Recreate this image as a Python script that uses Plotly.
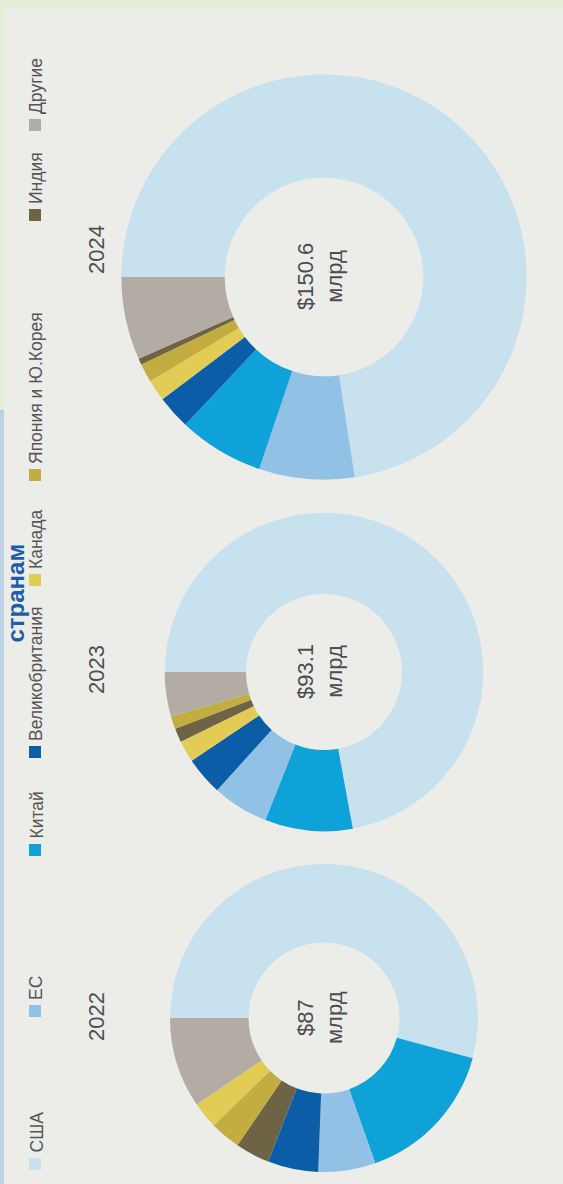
import plotly.graph_objects as go

W, H = 563, 1184

categories = ["США", "ЕС", "Китай", "Великобритания", "Канада",
              "Япония и Ю.Корея", "Индия", "Другие"]
colors = ["#c8e1ef", "#92c1e6", "#0ea2d9", "#0b5da8", "#e2cc55",
          "#c4ad40", "#6e6445", "#b3aca5"]
years = ["2022", "2023", "2024"]
totals_bn = [87, 93.1, 150.6]
total_labels = ["$87<br>млрд", "$93.1<br>млрд", "$150.6<br>млрд"]
share_2022 = [54.2, 6.0, 15.4, 5.3, 2.8, 3.2, 3.6, 9.5]
share_2023 = [72.1, 5.7, 8.9, 3.9, 2.2, 1.3, 1.4, 4.5]
share_2024 = [72.5, 7.6, 6.8, 2.7, 1.7, 1.5, 0.5, 6.6]
shares = [share_2022, share_2023, share_2024]

# layout (pixels, image coordinates)
centers_y = [1018, 672, 277]
center_x = 324
base_r = 154
year_label_y = [1017, 670, 250]
legend_swatch_y = [1164, 1011, 850, 752, 580, 475, 215, 125]

def px(x):
    return x / W

def py(y):
    return 1 - y / H

fig = go.Figure()
for i, yr in enumerate(years):
    vals = shares[i]
    idx = [k for k in range(len(categories)) if categories[k] != "Другие"]
    idx.sort(key=lambda k: -vals[k])
    idx.append(categories.index("Другие"))
    r = base_r * (totals_bn[i] / totals_bn[0]) ** 0.5
    cy = centers_y[i]
    fig.add_trace(go.Pie(
        labels=[categories[k] for k in idx],
        values=[vals[k] for k in idx],
        marker=dict(colors=[colors[k] for k in idx], line=dict(width=0)),
        sort=False, direction="clockwise", rotation=270, hole=0.49,
        textinfo="none", hoverinfo="label+percent", showlegend=False,
        domain=dict(x=[px(center_x - r), px(center_x + r)],
                    y=[py(cy + r), py(cy - r)]),
    ))

ann = []
shapes = []
# border strips
shapes.append(dict(type="rect", xref="paper", yref="paper", x0=0, x1=1,
                   y0=py(9), y1=1, fillcolor="#e4edd6", line=dict(width=0), layer="above"))
shapes.append(dict(type="rect", xref="paper", yref="paper", x0=0, x1=px(4),
                   y0=py(410), y1=py(9), fillcolor="#e4edd6", line=dict(width=0), layer="above"))
shapes.append(dict(type="rect", xref="paper", yref="paper", x0=0, x1=px(4),
                   y0=0, y1=py(410), fillcolor="#bcd2e2", line=dict(width=0), layer="above"))

# title fragment
ann.append(dict(text="<b>странам</b>", x=0, y=py(593), xref="paper", yref="paper",
                showarrow=False, textangle=-90, xanchor="left", yanchor="middle",
                borderpad=0,
                font=dict(family="Liberation Sans, Arial, sans-serif", size=24, color="#1b5eae")))

# year labels and totals
for i, yr in enumerate(years):
    ann.append(dict(text=yr, x=px(96), y=py(year_label_y[i]), xref="paper", yref="paper",
                    showarrow=False, textangle=-90, xanchor="center", yanchor="middle",
                    font=dict(family="Liberation Sans, Arial, sans-serif",
                              size=22, color="#4f4f4f")))
    ann.append(dict(text=total_labels[i], x=px(320), y=py(centers_y[i]), xref="paper", yref="paper",
                    showarrow=False, textangle=-90, xanchor="center", yanchor="middle",
                    font=dict(family="Liberation Sans, Arial, sans-serif",
                              size=22, color="#4d4d4d")))

# custom rotated legend
for k, cat in enumerate(categories):
    sy = legend_swatch_y[k]
    shapes.append(dict(type="rect", xref="paper", yref="paper",
                       x0=px(29), x1=px(41), y0=py(sy + 6), y1=py(sy - 6),
                       fillcolor=colors[k], line=dict(width=0)))
    ann.append(dict(text=cat, x=px(36), y=py(sy - 9), xref="paper", yref="paper",
                    showarrow=False, textangle=-90, xanchor="center", yanchor="bottom",
                    font=dict(family="Liberation Sans, Arial, sans-serif", size=17.5, color="#555555")))

fig.update_layout(
    width=W, height=H,
    margin=dict(l=0, r=0, t=0, b=0),
    paper_bgcolor="#ecece8",
    plot_bgcolor="#ecece8",
    annotations=ann,
    shapes=shapes,
)

fig.write_html("out.html", config={"displayModeBar": False},
               post_script="document.body.style.margin='0';document.body.style.overflow='hidden';")
